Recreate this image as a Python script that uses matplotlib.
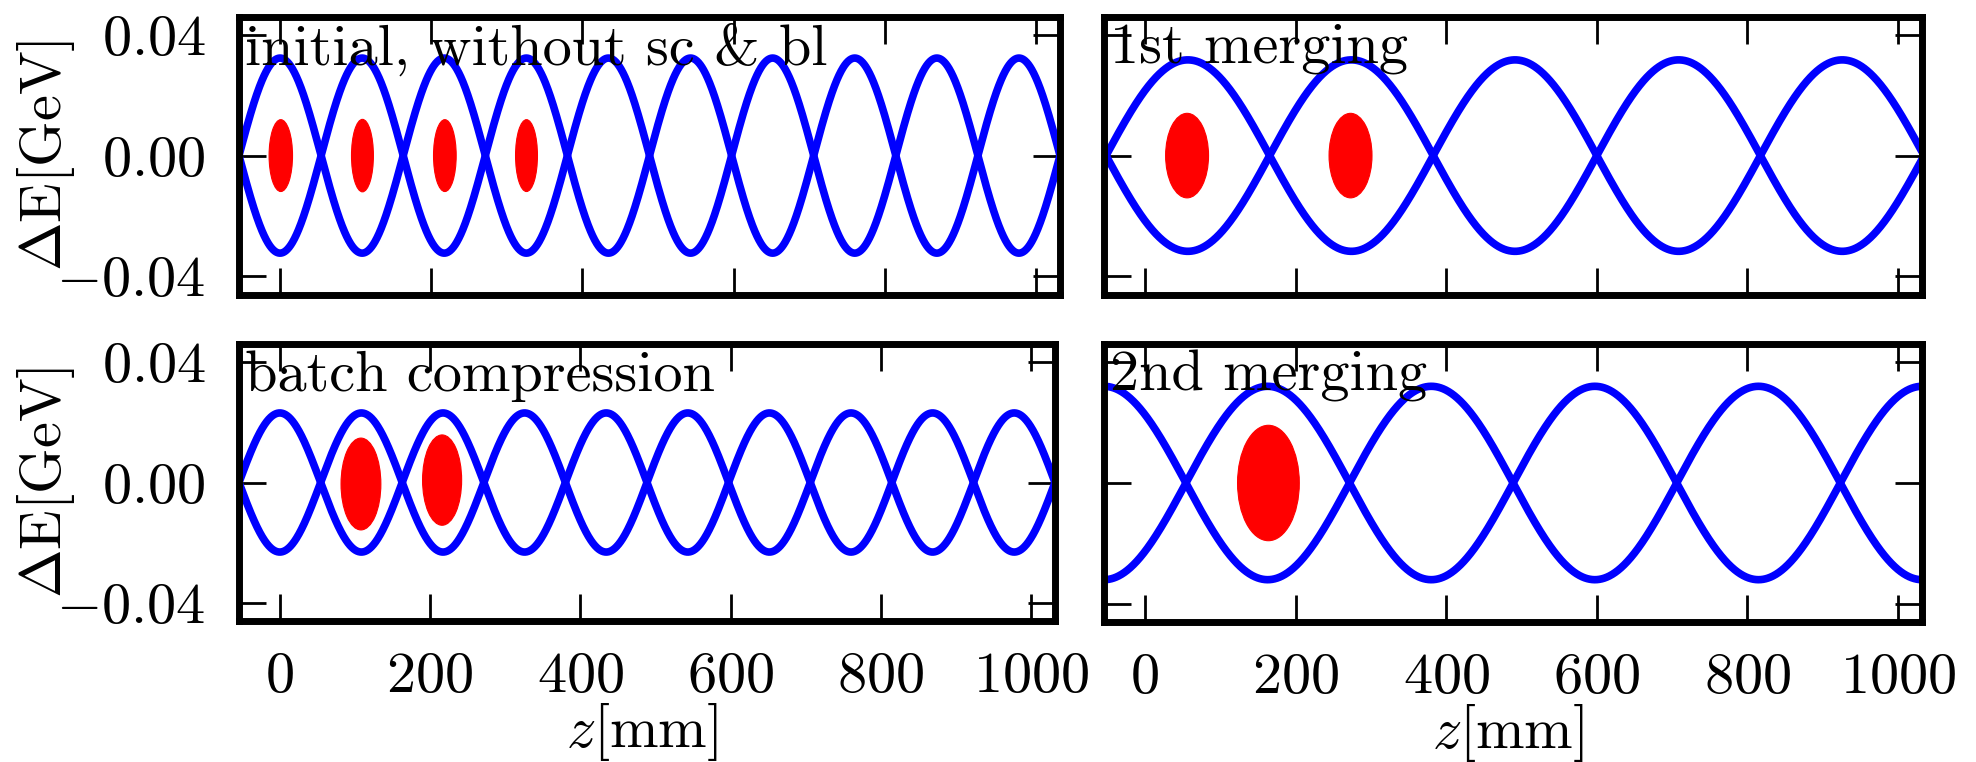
import numpy as np
import matplotlib
matplotlib.use('Agg')
import matplotlib.pyplot as plt
from matplotlib.patches import Ellipse
from matplotlib.ticker import FixedLocator, FormatStrFormatter

plt.rcParams['font.family'] = ['cmr10', 'DejaVu Serif']
plt.rcParams['mathtext.fontset'] = 'cm'
plt.rcParams['axes.formatter.use_mathtext'] = True
plt.rcParams['axes.unicode_minus'] = False

# ---------------- data ----------------
panel_titles = ['initial, without sc & bl', '1st merging',
                'batch compression', '2nd merging']
bucket_length = [108.6, 217.2, 108.6, 217.2]      # mm, node-to-node spacing
peak_offset = [0.0, 57.0, 0.0, 163.0]             # mm, position of a separatrix peak
separatrix_amp = [0.0323, 0.0317, 0.0231, 0.0320]  # GeV

bunch_z = [[1, 109, 218, 326], [56, 273], [108, 216], [164]]
bunch_dE = [[0.0, 0.0, 0.0, 0.0], [0.0, 0.0], [-0.0005, 0.0008], [0.0]]
bunch_width = [[31, 29, 30, 29], [57, 57], [53, 52], [82]]
bunch_height = [[0.0238, 0.0240, 0.0238, 0.0238], [0.0280, 0.0280],
                [0.0305, 0.0300], [0.0382]]

x_ticks = [0, 200, 400, 600, 800, 1000]
y_ticks = [-0.04, 0.0, 0.04]
x_limits = (-54.3, 1031.7)
y_limits = (-0.046, 0.046)

x_label = '$z$[mm]'
y_label = r'$\Delta\mathrm{E}[\mathrm{GeV}]$'

# ---------------- figure ----------------
W, H = 1976, 762
fig = plt.figure(figsize=(W / 100, H / 100), dpi=100)


def rect(l, r, t, b):
    return [l / W, 1 - b / H, (r - l) / W, (b - t) / H]


rects = [rect(239, 1060, 16.7, 294.5), rect(1104, 1922, 16.7, 294.5),
         rect(239, 1055, 344, 621), rect(1104, 1922, 344, 622)]

FS = 42
for i in range(4):
    ax = fig.add_axes(rects[i])
    ax.set_xlim(*x_limits)
    ax.set_ylim(*y_limits)

    z = np.linspace(x_limits[0], x_limits[1], 2000)
    upper = separatrix_amp[i] * np.cos(np.pi * (z - peak_offset[i]) / bucket_length[i])
    ax.plot(z, upper, color='#0000ff', lw=5.5, solid_capstyle='butt', zorder=2)
    ax.plot(z, -upper, color='#0000ff', lw=5.5, solid_capstyle='butt', zorder=2)

    for zc, ec, w, h in zip(bunch_z[i], bunch_dE[i], bunch_width[i], bunch_height[i]):
        ax.add_patch(Ellipse((zc, ec), w, h, facecolor='#ff0000',
                             edgecolor='#ff0000', lw=0.8, zorder=3))

    ax.xaxis.set_major_locator(FixedLocator(x_ticks))
    ax.yaxis.set_major_locator(FixedLocator(y_ticks))
    ax.xaxis.set_major_formatter(FormatStrFormatter('$%d$'))
    ax.yaxis.set_major_formatter(FormatStrFormatter('$%.2f$'))
    ax.tick_params(direction='in', length=19.4, width=2.0, top=True, right=True,
                   labelsize=FS)
    ax.tick_params(axis='x', pad=22)
    ax.tick_params(axis='y', pad=24)
    for sp in ax.spines.values():
        sp.set_linewidth(5.0)

    row, col = divmod(i, 2)
    if row == 0:
        ax.tick_params(labelbottom=False)
    else:
        ax.set_xlabel(x_label, fontsize=FS)
        ax.xaxis.set_label_coords(0.494, -0.289)
    if col == 1:
        ax.tick_params(labelleft=False)
    else:
        ax.set_ylabel(y_label, fontsize=FS)
        ax.yaxis.set_label_coords((77 - 239) / (rects[i][2] * W), 0.5)

    ax.text(0.007, 0.978, panel_titles[i], transform=ax.transAxes,
            ha='left', va='top', fontsize=FS, zorder=4)

fig.savefig('out.png', dpi=100)
